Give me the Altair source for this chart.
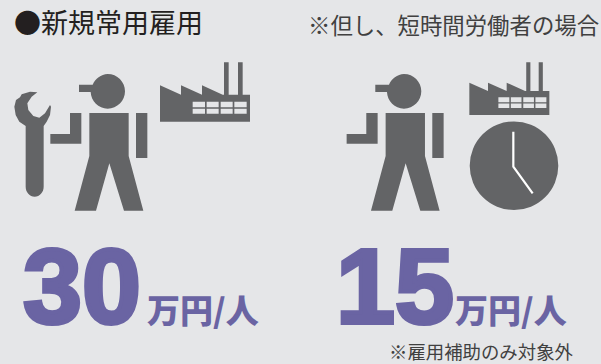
import altair as alt

# Copy shown on the panel
HEADING = "●新規常用雇用"
NOTE_PARTTIME = "※但し、短時間労働者の場合"
NOTE_EXCLUDED = "※雇用補助のみ対象外"
UNIT = "万円/人"
SUBSIDY = [30, 15]  # 万円 per person: regular workers, short-hours workers

BACKGROUND = "#e5e6e8"
ICON = "#636466"
PURPLE = "#6a64a3"
INK = "#231f20"
GREY_TEXT = "#404040"
JP = "Noto Sans CJK JP"

# Pictograms, drawn in a local grid of three units per pixel
WORKER = (
    "M323 72A52 52 0 0 1 323 176A52 52 0 0 1 272 126L237 126L237 104L278 104A52 52 0 0 1 323 72Z"
    "M268 189L386 189L386 318L430 482L372 482L328 340L288 482L224 482L268 318Z"
    "M210 189L244 189L244 281L151 281L151 252L210 252Z"
    "M408 189L442 189L442 324L408 324Z"
)
WRENCH = (
    "M77 228L77 410A27 30 0 0 0 131 410L131 228L140 215L150 195L153 170L150 165L135 190L118 203"
    "L100 198L85 180L82 160L95 140L112 127L90 125L65 133L60 142L48 150L43 170L47 195L58 215Z"
)
FACTORY = (
    "M480 106L543 134L543 106L606 134L606 106L668 134L672 134L672 37L686 37L686 134L714 134L714 37"
    "L728 37L728 134L750 134L750 215L480 215Z"
)
# Window panes wind the opposite way so they cut through the building
for x0, x1 in [(578, 615), (620, 656), (662, 698), (703, 740)]:
    for y0, y1 in [(155, 172), (176, 191)]:
        FACTORY += f"M{x0} {y0}L{x0} {y1}L{x1} {y1}L{x1} {y0}Z"
CLOCK_HANDS = "M550 245L550 350L608 430"

UNIT_SIZE = 4 / 9  # makes one path unit equal a third of a pixel


def text(content, x, y, size, color, weight="normal", font=JP, stroke=0):
    opts = dict(
        font=font, fontSize=size, fontWeight=weight, color=color,
        align="left", baseline="alphabetic",
    )
    if stroke:
        opts.update(stroke=color, strokeWidth=stroke)
    return (
        alt.Chart(alt.Data(values=[{"t": str(content)}]))
        .mark_text(**opts)
        .encode(x=alt.value(x), y=alt.value(y), text="t:N")
    )


def icon(path, x, y, scale=1.0):
    return (
        alt.Chart(alt.Data(values=[{"t": "icon"}]))
        .mark_point(shape=path, size=UNIT_SIZE * scale**2, filled=True, fill=ICON, opacity=1, strokeWidth=0)
        .encode(x=alt.value(x), y=alt.value(y))
    )


clock_face = (
    alt.Chart(alt.Data(values=[{"t": "clock"}]))
    .mark_point(shape="circle", size=7850, filled=True, fill=ICON, opacity=1, strokeWidth=0)
    .encode(x=alt.value(514), y=alt.value(165.7))
)
clock_hands = (
    alt.Chart(alt.Data(values=[{"t": "hands"}]))
    .mark_point(shape=CLOCK_HANDS, size=UNIT_SIZE, filled=False, stroke="white", strokeWidth=2.2, opacity=1)
    .encode(x=alt.value(330), y=alt.value(50))
)

BIG_FONT = "Liberation Sans"

chart = alt.layer(
    text(HEADING, 14, 33, 27, INK),
    text(NOTE_PARTTIME, 308, 34, 22.4, GREY_TEXT),
    icon(WRENCH, 0, 50),
    icon(WORKER, 0, 50),
    icon(FACTORY, 0, 50),
    icon(WORKER, 296.3, 50),
    icon(FACTORY, 327.1, 51.3, 0.889),
    clock_face,
    clock_hands,
    text(SUBSIDY[0], 23, 323, 106, PURPLE, "bold", BIG_FONT, 4),
    text(SUBSIDY[1], 336, 323, 106, PURPLE, "bold", BIG_FONT, 4),
    text(UNIT, 147, 323, 33, PURPLE, 900),
    text(UNIT, 455, 323, 33, PURPLE, 900),
    text(NOTE_EXCLUDED, 389, 359, 18.4, GREY_TEXT),
).properties(
    width=601,
    height=364,
    background=BACKGROUND,
    padding=0,
    autosize=alt.AutoSizeParams(type="none"),
).configure_view(stroke=None)

chart.save("out.html", embed_options={"renderer": "svg", "actions": False})
